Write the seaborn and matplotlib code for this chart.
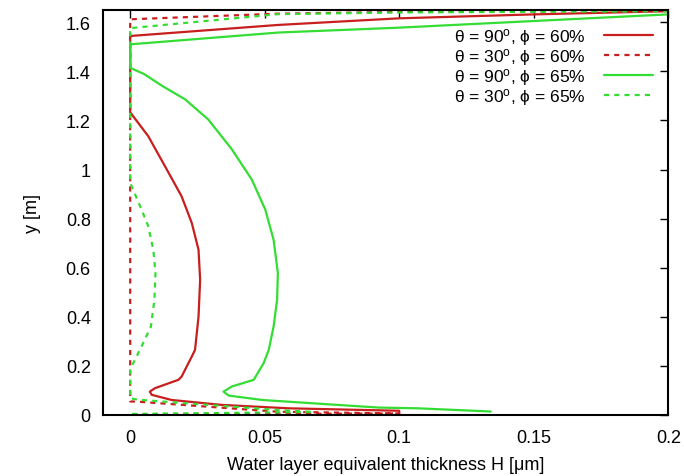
import numpy as np
import pandas as pd
import matplotlib
matplotlib.use("Agg")
import matplotlib.pyplot as plt
from matplotlib.ticker import FuncFormatter
import seaborn as sns

# ---- data ----
labels = [r"θ = 90$^{\mathrm{o}}$, ϕ = 60%",
          r"θ = 30$^{\mathrm{o}}$, ϕ = 60%",
          r"θ = 90$^{\mathrm{o}}$, ϕ = 65%",
          r"θ = 30$^{\mathrm{o}}$, ϕ = 65%"]

h_90_60 = [0.2, 0.15, 0.1, 0.055, 0.0, 0.0, 0.0, 0.0067, 0.013, 0.0191, 0.0229, 0.0254,
           0.026, 0.0254, 0.0241, 0.0229, 0.0191, 0.0179, 0.0092, 0.0073, 0.008, 0.0154,
           0.034, 0.059, 0.1, 0.1]
y_90_60 = [1.645, 1.632, 1.616, 1.589, 1.544, 1.535, 1.233, 1.136, 1.012, 0.891, 0.782, 0.673,
           0.551, 0.40, 0.265, 0.238, 0.156, 0.143, 0.109, 0.095, 0.082, 0.061,
           0.041, 0.027, 0.017, 0.005]

h_30_60 = [0.2, 0.1, 0.055, 0.0, 0.0, 0.003, 0.055, 0.1, 0.0]
y_30_60 = [1.648, 1.642, 1.635, 1.612, 0.055, 0.054, 0.013, 0.006, 0.002]

h_90_65 = [0.2, 0.1, 0.055, 0.0, 0.0, 0.005, 0.012, 0.0204, 0.029, 0.0378, 0.0452, 0.0502,
           0.0533, 0.0549, 0.0546, 0.0533, 0.0515, 0.0496, 0.0459, 0.0378, 0.0347, 0.0366,
           0.049, 0.0713, 0.0925, 0.107, 0.134]
y_90_65 = [1.632, 1.578, 1.558, 1.51, 1.414, 1.39, 1.34, 1.286, 1.204, 1.082, 0.959, 0.837,
           0.714, 0.578, 0.469, 0.36, 0.265, 0.211, 0.143, 0.116, 0.095, 0.079,
           0.061, 0.045, 0.030, 0.027, 0.014]

h_30_65 = [0.2, 0.1, 0.055, 0.0, 0.0, 0.0042, 0.0067, 0.0086, 0.0094, 0.009, 0.0077, 0.0042,
           0.0005, 0.0, 0.0, 0.003, 0.055, 0.068, 0.0]
y_30_65 = [1.645, 1.64, 1.633, 1.576, 0.946, 0.837, 0.769, 0.673, 0.578, 0.469, 0.36, 0.279,
           0.197, 0.19, 0.068, 0.062, 0.02, 0.012, 0.004]

series_h = [h_90_60, h_30_60, h_90_65, h_30_65]
series_y = [y_90_60, y_30_60, y_90_65, y_30_65]

x_ticks = [0, 0.05, 0.1, 0.15, 0.2]
y_ticks = [0, 0.2, 0.4, 0.6, 0.8, 1.0, 1.2, 1.4, 1.6]

# ---- style ----
sns.set_theme(style="white")
plt.rcParams["font.family"] = ["Liberation Sans", "DejaVu Sans"]
plt.rcParams["mathtext.fontset"] = "custom"
plt.rcParams["mathtext.rm"] = "Liberation Sans"
plt.rcParams["mathtext.it"] = "Liberation Sans:italic"
plt.rcParams["text.color"] = "black"

RED = "#c81e1e"
GREEN = "#33dd33"
colors = [RED, RED, GREEN, GREEN]
dashed = [False, True, False, True]

fig = plt.figure(figsize=(6.84, 4.77), dpi=100)
ax = fig.add_axes([0.151, 0.128, 0.826, 0.849])

for h, y, lab, c, d in zip(series_h, series_y, labels, colors, dashed):
    df = pd.DataFrame({"H": h, "y": y})
    sns.lineplot(data=df, x="H", y="y", sort=False, estimator=None, ax=ax,
                 color=c, lw=1.6, label=lab)
    if d:
        ax.lines[-1].set_dashes((2.3, 2.3))

ax.set_xlim(-0.01, 0.2)
ax.set_ylim(0, 1.65)
ax.set_xticks(x_ticks)
ax.set_yticks(y_ticks)
fmt = FuncFormatter(lambda v, p: "%g" % round(v, 4))
ax.xaxis.set_major_formatter(fmt)
ax.yaxis.set_major_formatter(fmt)
ax.tick_params(direction="in", top=True, right=True, length=6, width=1,
               labelsize=13, color="black", labelcolor="black")
ax.tick_params(axis="x", pad=10)
ax.tick_params(axis="y", pad=9)
for s in ax.spines.values():
    s.set_color("black")
    s.set_linewidth(1.5)

ax.set_xlabel("Water layer equivalent thickness H [μm]", fontsize=13, color="black", labelpad=7)
ax.set_ylabel("y [m]", fontsize=13, color="black", labelpad=18)

leg = ax.legend(loc="upper right", bbox_to_anchor=(0.985, 0.978), frameon=False,
                markerfirst=False, fontsize=12.5, handlelength=2.8, labelspacing=-0.05,
                handletextpad=1.1, borderaxespad=0.0)
for t in leg.get_texts():
    t.set_color("black")

fig.savefig("out.png", dpi=100)
